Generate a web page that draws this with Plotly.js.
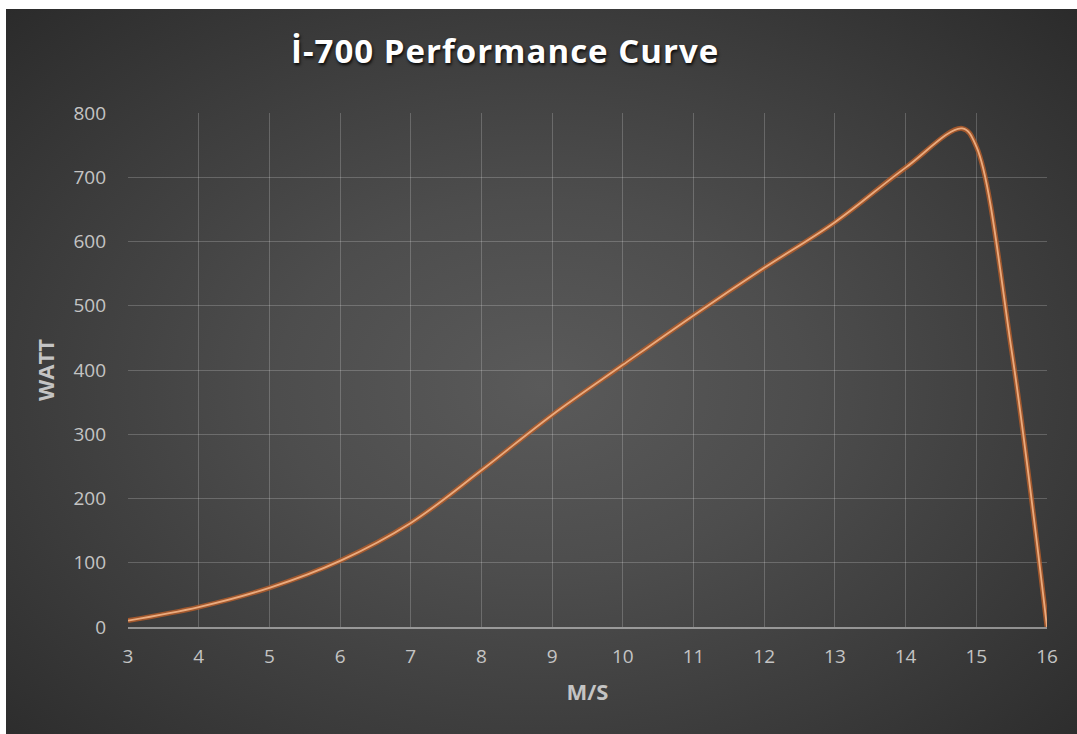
<!DOCTYPE html>
<html><head><meta charset="utf-8">
<script src="https://cdn.plot.ly/plotly-3.0.1.min.js"></script>
<style>
html,body{margin:0;padding:0;background:#ffffff;width:1077px;height:734px;overflow:hidden}
#chart{position:absolute;left:6px;top:9px;width:1071px;height:725px;
background:radial-gradient(ellipse farthest-corner at 50% 52%, #5a5a5a 0%, #4d4d4d 35%, #3b3b3b 70%, #2b2b2b 100%);}
#chart .gtitle{letter-spacing:1px}
</style></head><body><div id="chart"></div>
<script>
// Data
const speeds = [3, 4, 5, 6, 7, 8, 9, 10, 11, 12, 13, 14, 14.8, 15, 15.5, 16];
const watts  = [10, 31, 61, 103, 162, 244, 330, 408, 485, 559, 630, 715, 776, 748, 430, 0];
const chartTitle = 'İ-700 Performance Curve';
const xLabel = 'M/S';
const yLabel = 'WATT';

const glow = {
  x: speeds, y: watts, type: 'scatter', mode: 'lines',
  line: {shape: 'spline', smoothing: 1, color: 'rgba(178,92,42,0.85)', width: 5},
  hoverinfo: 'skip', showlegend: false
};
const core = {
  x: speeds, y: watts, type: 'scatter', mode: 'lines',
  line: {shape: 'spline', smoothing: 1, color: '#ebab7e', width: 1.8},
  showlegend: false
};

const tickFont = {family: 'Open Sans, sans-serif', size: 19, color: '#c4c4c4'};
const layout = {
  width: 1071, height: 725,
  paper_bgcolor: 'rgba(0,0,0,0)', plot_bgcolor: 'rgba(0,0,0,0)',
  margin: {l: 122, r: 30, t: 104, b: 107},
  title: {
    text: chartTitle, xref: 'container', yref: 'container',
    x: 0.466, xanchor: 'center', y: 0.941, yanchor: 'middle',
    font: {family: 'Open Sans, sans-serif', size: 33, color: '#ffffff', weight: 'bold',
           shadow: '1px 2px 3px rgba(0,0,0,0.85)'}
  },
  xaxis: {
    range: [3, 16], dtick: 1, tick0: 3,
    showgrid: true, gridcolor: 'rgba(255,255,255,0.2)', gridwidth: 1,
    showline: true, linecolor: 'rgba(255,255,255,0.45)', linewidth: 1.5,
    zeroline: false, ticks: '', ticklabelstandoff: 12,
    tickfont: tickFont,
    title: {text: xLabel, standoff: 16,
            font: {family: 'Open Sans, sans-serif', size: 22, color: '#c4c4c4', weight: 'bold'}}
  },
  yaxis: {
    range: [0, 800], dtick: 100, tick0: 0,
    showgrid: true, gridcolor: 'rgba(255,255,255,0.2)', gridwidth: 1,
    showline: false, zeroline: false, ticks: '', ticklabelstandoff: 21,
    tickfont: tickFont,
    title: {text: yLabel, standoff: 12,
            font: {family: 'Open Sans, sans-serif', size: 22, color: '#c4c4c4', weight: 'bold'}}
  }
};

Plotly.newPlot('chart', [glow, core], layout, {displayModeBar: false, staticPlot: true});
</script></body></html>
